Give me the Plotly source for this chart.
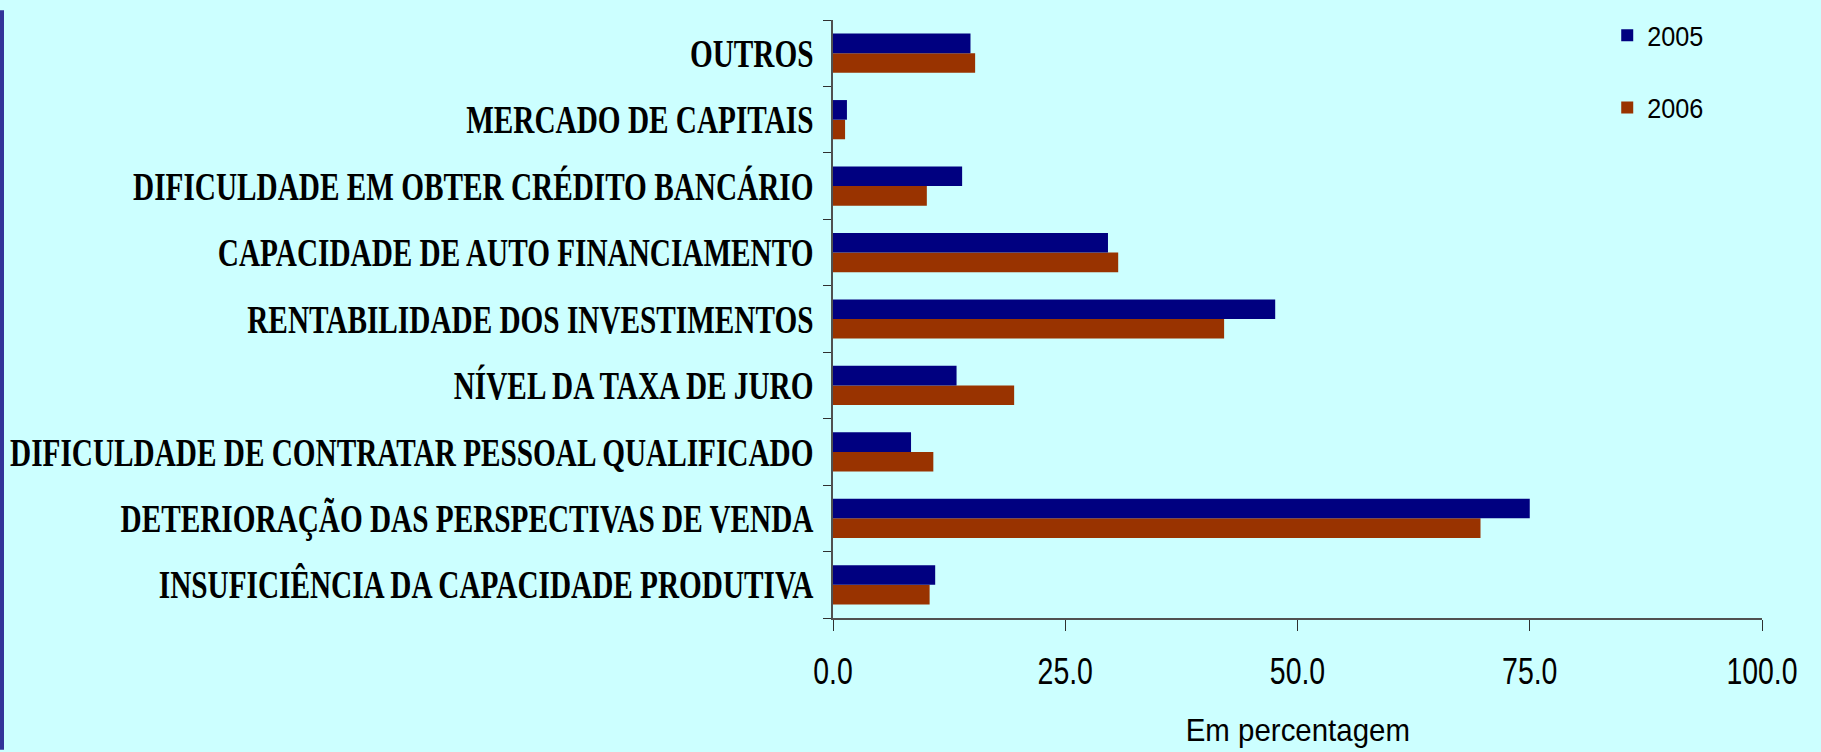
import plotly.graph_objects as go

# categories, bottom to top
categorias = [
    "INSUFICIÊNCIA DA CAPACIDADE PRODUTIVA",
    "DETERIORAÇÃO DAS PERSPECTIVAS DE VENDA",
    "DIFICULDADE DE CONTRATAR PESSOAL QUALIFICADO",
    "NÍVEL DA TAXA DE JURO",
    "RENTABILIDADE DOS INVESTIMENTOS",
    "CAPACIDADE DE AUTO FINANCIAMENTO",
    "DIFICULDADE EM OBTER CRÉDITO BANCÁRIO",
    "MERCADO DE CAPITAIS",
    "OUTROS",
]
valores_2005 = [11.0, 75.0, 8.4, 13.3, 47.6, 29.6, 13.9, 1.5, 14.8]
valores_2006 = [10.4, 69.7, 10.8, 19.5, 42.1, 30.7, 10.1, 1.3, 15.3]
x_ticks = [0, 25, 50, 75, 100]
x_tick_labels = ["0.0", "25.0", "50.0", "75.0", "100.0"]

W, H = 1821, 752
ML, MR, MT, MB = 833, 59, 10, 134
pw = W - ML - MR
ph = H - MT - MB

fig = go.Figure()
# 2006 first so that 2005 sits on top inside each group
fig.add_trace(go.Bar(y=categorias, x=valores_2006, name="2006", orientation="h",
                     marker=dict(color="#993300", line_width=0),
                     legendgroup="b", legendrank=2))
fig.add_trace(go.Bar(y=categorias, x=valores_2005, name="2005", orientation="h",
                     marker=dict(color="#000080", line_width=0),
                     legendgroup="a", legendrank=1))

fig.update_layout(
    width=W, height=H,
    margin=dict(l=ML, r=MR, t=MT, b=MB, pad=0),
    paper_bgcolor="#CCFFFF",
    plot_bgcolor="#CCFFFF",
    barmode="group",
    bargap=0.41,
    bargroupgap=0,
    font=dict(family="Liberation Sans, Arial", color="black"),
    legend=dict(x=0.8334, y=1.016, xanchor="left", yanchor="top",
                bgcolor="rgba(0,0,0,0)", font=dict(size=28),
                tracegroupgap=33, traceorder="grouped"),
    showlegend=True,
)

fig.update_xaxes(
    range=[0, 100], tickvals=x_ticks, ticktext=x_tick_labels,
    showgrid=False, zeroline=False, automargin=False,
    showline=True, linecolor="#505050", linewidth=1.5,
    ticks="outside", ticklen=11, tickcolor="#303030", tickwidth=1,
    tickfont=dict(size=36, family="Liberation Sans, Arial"),
    ticklabelstandoff=10,
)
fig.update_yaxes(
    type="category", showgrid=False, zeroline=False, automargin=False,
    showline=True, linecolor="#505050", linewidth=1.5,
    ticks="outside", ticklen=8, tickcolor="#303030", tickwidth=1,
    tickson="boundaries",
    tickfont=dict(size=39, family="Liberation Serif, Times New Roman", weight="bold"),
    ticklabelstandoff=10,
)

fig.add_annotation(text="Em percentagem", xref="paper", yref="paper",
                   x=0.5, y=-(712 - (MT + ph)) / ph, xanchor="center", yanchor="top",
                   showarrow=False, font=dict(size=32, family="Liberation Sans, Arial"))

# dark blue strip on the left edge of the slide
fig.add_shape(type="rect", xref="paper", yref="paper",
              x0=-ML / pw, x1=(-ML + 4) / pw, y0=-MB / ph, y1=1 + MT / ph,
              fillcolor="#333399", line_width=0, layer="above")

# no page margin, and narrow the glyphs like the condensed slide fonts
squeeze = """
document.body.style.margin = '0';
document.body.style.overflow = 'hidden';
var gd = document.getElementsByClassName('plotly-graph-div')[0];
var rules = [['.ytick text', 0.75], ['.xtick text', 0.79],
             ['.annotation-text', 0.92], ['.legendtext', 0.9]];
function squeeze() {
  rules.forEach(function (r) {
    gd.querySelectorAll(r[0]).forEach(function (t) {
      if (t.getAttribute('data-w0')) return;
      var w = t.getComputedTextLength();
      t.setAttribute('data-w0', w);
      t.setAttribute('lengthAdjust', 'spacingAndGlyphs');
      t.setAttribute('textLength', (w * r[1]).toFixed(1));
    });
  });
}
squeeze();
gd.on('plotly_afterplot', squeeze);
"""

fig.write_html("out.html", post_script=squeeze, config={"displayModeBar": False})
